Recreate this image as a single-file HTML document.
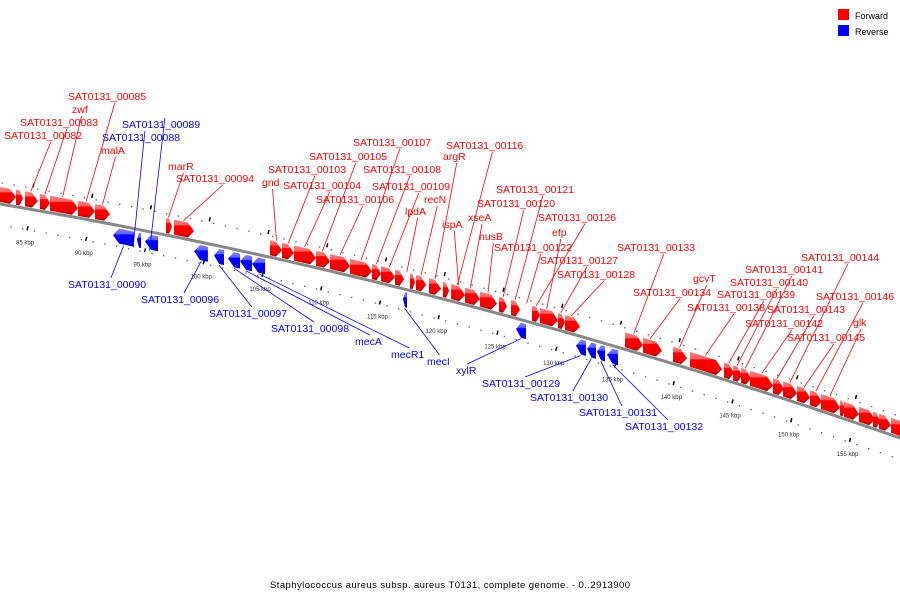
<!DOCTYPE html>
<html><head><meta charset="utf-8"><style>
html,body{margin:0;padding:0;background:#fff;}
svg{display:block;font-family:"Liberation Sans",sans-serif;}
</style></head><body>
<svg id="chart" width="900" height="600" viewBox="0 0 900 600" xmlns="http://www.w3.org/2000/svg">
<defs>
<linearGradient id="gr" x1="0" y1="0" x2="0" y2="1"><stop offset="0" stop-color="#ff8080"/><stop offset="0.3" stop-color="#ff6060"/><stop offset="0.35" stop-color="#f00"/><stop offset="0.8" stop-color="#e00"/><stop offset="1" stop-color="#900"/></linearGradient>
<linearGradient id="gb" x1="0" y1="0" x2="0" y2="1"><stop offset="0" stop-color="#8080ff"/><stop offset="0.3" stop-color="#6060ff"/><stop offset="0.35" stop-color="#00f"/><stop offset="0.8" stop-color="#00e"/><stop offset="1" stop-color="#009"/></linearGradient>
</defs>
<g id="ticks"></g>
<path id="backbone" fill="none" stroke="#888" stroke-width="3"/>
<g id="genes"></g>
<g id="labels"></g>
<g>
<rect x="838" y="9" width="11" height="11" fill="#f00"/>
<text x="855" y="19" font-size="9" fill="#000">Forward</text>
<rect x="838" y="25" width="11" height="11" fill="#00f"/>
<text x="855" y="35" font-size="9" fill="#000">Reverse</text>
</g>
<text x="450" y="588" font-size="9.5" text-anchor="middle" textLength="360" fill="#000">Staphylococcus aureus subsp. aureus T0131, complete genome. - 0..2913900</text>
</svg>
<script>
const fwdStart=[82.87,84.23,85.0,86.28,87.13,89.51,90.96,97.0,97.68,105.85,106.87,107.89,109.77,110.96,112.66,114.53,115.3,116.49,117.77,118.28,119.38,120.57,121.26,122.45,123.72,125.34,126.36,128.15,128.83,130.36,130.96,136.06,137.6,140.15,141.6,144.49,145.26,145.94,146.7,148.66,149.51,150.7,151.81,152.74,154.36,154.7,155.98,157.17,157.68,158.7];
const fwdEnd=[84.23,84.83,86.1,87.13,89.51,90.96,92.23,97.51,99.38,106.87,107.89,109.77,110.96,112.66,114.53,115.3,116.49,117.26,118.19,119.13,120.4,121.09,122.45,123.72,125.17,126.02,127.13,128.83,130.36,130.96,132.23,137.6,139.21,141.34,144.32,145.34,146.02,146.79,148.66,149.6,150.7,151.81,152.83,154.36,154.79,155.98,157.34,157.77,158.7,160.5];
const revStart=[92.49,94.53,95.21,99.38,101.09,102.28,103.3,104.32,117.17,126.79,131.89,132.83,133.68,134.53];
const revEnd=[94.28,94.87,96.32,100.57,101.94,103.3,104.32,105.43,117.51,127.64,132.74,133.6,134.36,135.47];
const tickKbp=[85,90,95,100,105,110,115,120,125,130,135,140,145,150,155];
const tickLabels=["85 kbp","90 kbp","95 kbp","100 kbp","105 kbp","110 kbp","115 kbp","120 kbp","125 kbp","130 kbp","135 kbp","140 kbp","145 kbp","150 kbp","155 kbp"];
const labelNames=["SAT0131_00082","SAT0131_00083","zwf","SAT0131_00085","malA","SAT0131_00088","SAT0131_00089","marR","SAT0131_00094","gnd","SAT0131_00103","SAT0131_00104","SAT0131_00105","SAT0131_00106","SAT0131_00107","SAT0131_00108","SAT0131_00109","lpdA","recN","argR","SAT0131_00116","ispA","xseA","nusB","SAT0131_00120","SAT0131_00121","SAT0131_00122","SAT0131_00126","efp","SAT0131_00127","SAT0131_00128","SAT0131_00133","SAT0131_00134","gcvT","SAT0131_00138","SAT0131_00139","SAT0131_00140","SAT0131_00141","SAT0131_00142","SAT0131_00143","SAT0131_00144","SAT0131_00145","SAT0131_00146","glk",
"SAT0131_00090","SAT0131_00096","SAT0131_00097","SAT0131_00098","mecA","mecR1","mecI","xylR","SAT0131_00129","SAT0131_00130","SAT0131_00131","SAT0131_00132"];
const labelStrand=[1,1,1,1,1,-1,-1,1,1,1,1,1,1,1,1,1,1,1,1,1,1,1,1,1,1,1,1,1,1,1,1,1,1,1,1,1,1,1,1,1,1,1,1,1,-1,-1,-1,-1,-1,-1,-1,-1,-1,-1,-1,-1];
const labelGeneKbp=[85.5,86.7,88.2,90.2,91.6,94.2,95.6,97.2,98.5,106.4,107.4,108.8,110.3,111.8,113.6,114.9,116.0,117.5,118.7,119.9,121.8,121.9,122.9,124.4,125.7,126.7,127.7,128.5,129.4,130.6,131.5,136.8,138.2,140.7,142.9,144.9,145.6,146.3,147.7,149.0,150.1,151.3,152.3,153.5,
93.4,100.0,101.5,102.8,103.8,104.9,117.3,127.2,132.3,133.2,134.0,135.0];
const labelX=[4,20,72,68,101,102,122,168,176,262,268,283,309,316,353,363,372,405,424,443,446,442,468,479,477,496,494,538,552,540,557,617,633,693,687,717,730,745,745,767,801,787,816,853,
68,141,209,271,355,391,427,456,482,530,579,625];
const labelY=[139,126,113,100,154,141,128,170,182,186,173,189,160,203,146,173,190,215,203,160,149,228,221,240,207,193,251,221,236,264,278,251,296,282,311,298,286,273,327,313,261,341,300,326,
288,303,317,332,345,358,365,374,387,401,416,430];
const svgNS="http://www.w3.org/2000/svg";
function X(k){return 25+(k-85)*11.75;}
function Y(x){return 203+0.17*x+0.0001*x*x;}
const svg=document.getElementById('chart');
let d="";for(let x=-5;x<=905;x+=5){d+=(x===-5?"M":"L")+x+","+(Y(x)+1).toFixed(1);}
document.getElementById('backbone').setAttribute('d',d);
const tg=document.getElementById('ticks');
function el(t,a,p){const e=document.createElementNS(svgNS,t);for(const k in a)e.setAttribute(k,a[k]);p.appendChild(e);return e;}
for(let k=82;k<=161;k+=1){const x=X(k);
 const a=el('rect',{x:x.toFixed(1),y:(Y(x)-21).toFixed(1),width:1.4,height:1.4,fill:'#666'},tg);
 
 const b=el('rect',{x:(x-3).toFixed(1),y:(Y(x)+21).toFixed(1),width:1.4,height:1.4,fill:'#666'},tg);
 
}
tickKbp.forEach((k,i)=>{const x=X(k);
 const t=el('line',{x1:x+3,y1:Y(x)+19,x2:x+2,y2:Y(x)+23,stroke:'#000','stroke-width':1.5},tg);
 
 const u=el('line',{x1:x+9,y1:Y(x)-24,x2:x+8,y2:Y(x)-20,stroke:'#000','stroke-width':1.5},tg);
 
 const l=el('text',{x:x,y:Y(x)+37,'font-size':6,'text-anchor':'middle',fill:'#333'},tg);
 l.textContent=tickLabels[i];
 
});
const gg=document.getElementById('genes');
function gene(s,e,strand){
 const x1=X(s),x2=X(e);const h=Math.min(6,(x2-x1)*0.5);
 let pts;
 if(strand>0){const t=-16,b=-1,m=-8.5;
  pts=[[x1,t],[x2-h,t],[x2,m],[x2-h,b],[x1,b]];}
 else{const t=4,b=19,m=11.5;
  pts=[[x1+h,t],[x2,t],[x2,b],[x1+h,b],[x1,m]];}
 const p=el('polygon',{points:pts.map(q=>q[0].toFixed(1)+","+(Y(q[0])+q[1]).toFixed(1)).join(" "),fill:strand>0?'url(#gr)':'url(#gb)'},gg);
 
 
}
fwdStart.forEach((s,i)=>gene(s,fwdEnd[i],1));
revStart.forEach((s,i)=>gene(s,revEnd[i],-1));
const lg=document.getElementById('labels');
labelNames.forEach((n,i)=>{
 const c=labelStrand[i]>0?'#f00':'#00f';
 const t=el('text',{x:labelX[i],y:labelY[i],'font-size':10.5,fill:c},lg);
 t.textContent=n;
 
 const w=t.getComputedTextLength?t.getComputedTextLength():n.length*6;
 const gx=X(labelGeneKbp[i]);
 let lx,ly,ey;
 if(labelStrand[i]>0){lx=labelX[i]+w*0.6;ly=labelY[i]+3;ey=Y(gx)-17;}
 else{lx=labelX[i]+w*0.55;ly=labelY[i]-10;ey=Y(gx)+20;}
 const ln=el('line',{x1:lx.toFixed(1),y1:ly,x2:gx.toFixed(1),y2:ey.toFixed(1),stroke:c,'stroke-width':0.8},lg);
 
});
</script>
</body></html>
